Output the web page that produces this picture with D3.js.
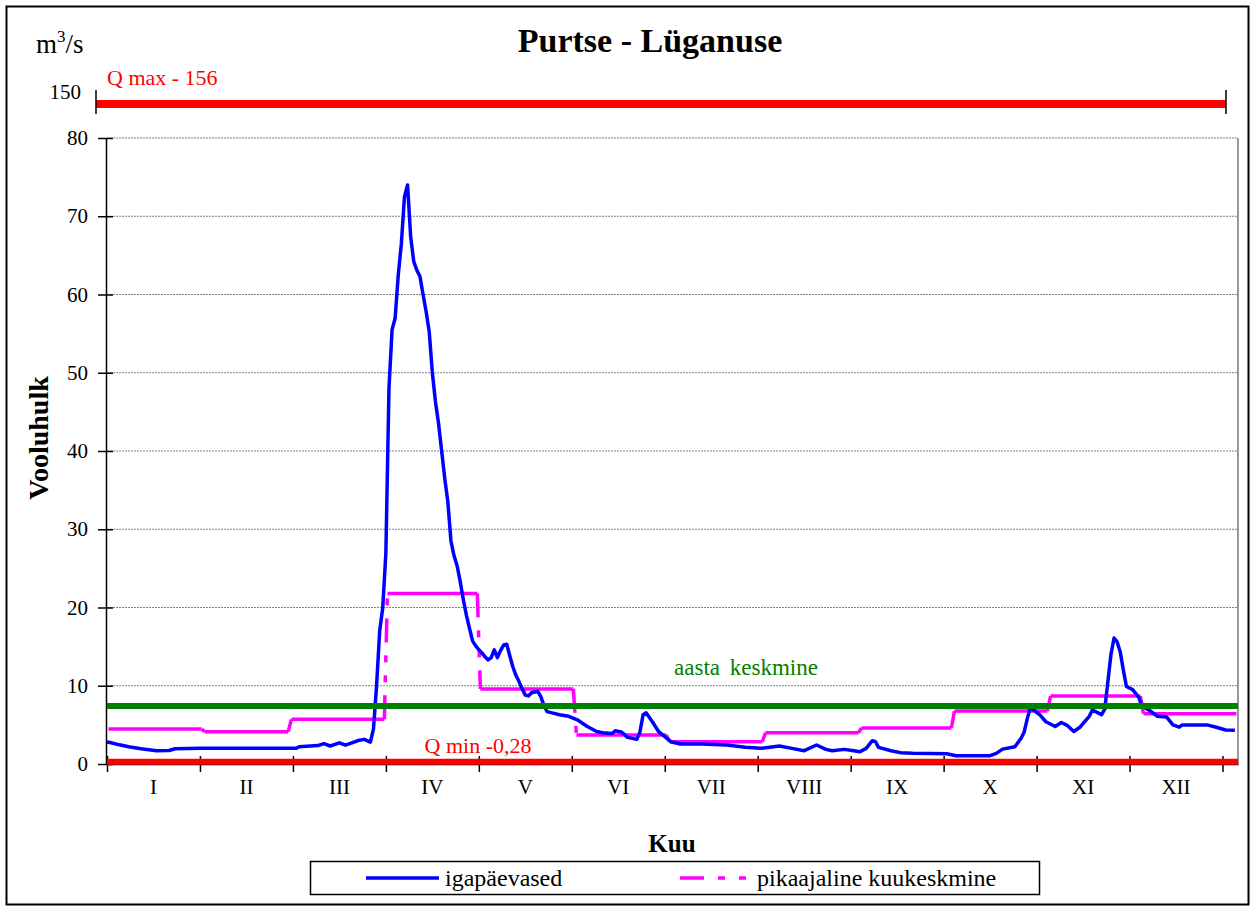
<!DOCTYPE html>
<html>
<head>
<meta charset="utf-8">
<script src="https://cdn.jsdelivr.net/npm/d3@7"></script>
<style>
  body { margin: 0; background: #fff; }
  text { font-family: "Liberation Serif", "Times New Roman", serif; }
</style>
</head>
<body>
<div id="chart"></div>
<script>
"use strict";

// month labels and the day each month starts (365 day year)
const months = ["I", "II", "III", "IV", "V", "VI", "VII", "VIII", "IX", "X", "XI", "XII"];
const monthStart = [0, 31, 59, 90, 120, 151, 181, 212, 243, 273, 304, 334, 365];
// long term monthly mean (pink step line)
const monthMean = [4.47, 4.13, 5.71, 21.8, 9.6, 3.7, 2.85, 4.0, 4.6, 6.77, 8.68, 6.42];

// daily flow (day of year, m3/s)
const flowDay = [
  0, 1, 4, 7, 11, 16, 20, 22, 30, 45, 61, 62, 68, 70, 72, 75, 77, 81, 83, 85,
  86, 87, 88, 89, 90, 91, 92, 93, 94, 95, 96, 97, 98, 99, 100, 101, 102, 103, 104, 105,
  106, 107, 108, 109, 110, 111, 112, 113, 114, 115, 116, 117, 118, 119, 120, 121, 122, 123, 124, 125,
  126, 127, 128, 129, 130, 131, 132, 133, 134, 135, 136, 137, 138, 139, 140, 141, 142, 144, 146, 149,
  152, 155, 158, 160, 163, 164, 166, 168, 171, 172, 173, 174, 176, 178, 180, 182, 185, 192, 200, 206,
  211, 217, 221, 225, 229, 232, 234, 238, 241, 243, 245, 247, 248, 249, 253, 256, 260, 271, 274, 285,
  287, 289, 293, 295, 296, 297, 298, 299, 301, 303, 306, 308, 310, 312, 314, 317, 318, 320, 321, 322,
  323, 324, 325, 326, 327, 328, 329, 331, 333, 334, 337, 339, 342, 344, 346, 347, 355, 358, 361, 364
];
const flowValue = [
  2.8, 2.75, 2.45, 2.2, 1.95, 1.7, 1.72, 1.95, 2.0, 2.0, 2.0, 2.2, 2.35, 2.6, 2.3, 2.7, 2.4, 3.0, 3.15, 2.8,
  4.5, 10, 17, 20, 27, 48, 55.5, 57, 62.5, 66.5, 72.5, 74, 67.4, 64.2, 63.1, 62.3, 60, 57.8, 55.2, 50,
  46.3, 43.5, 40, 36.5, 33.5, 28.5, 26.6, 25.3, 23.3, 21, 19, 17.3, 15.7, 15.1, 14.6, 14.2, 13.7, 13.3, 13.6, 14.6,
  13.6, 14.5, 15.2, 15.3, 13.8, 12.4, 11.3, 10.5, 9.6, 8.8, 8.7, 9.1, 9.2, 9.3, 8.6, 7.5, 6.7, 6.5, 6.3, 6.1,
  5.6, 4.8, 4.15, 4.0, 3.9, 4.25, 4.1, 3.4, 3.15, 4.1, 6.3, 6.55, 5.4, 4.15, 3.5, 2.85, 2.56, 2.56, 2.43, 2.15,
  2.0, 2.3, 2.0, 1.7, 2.43, 1.87, 1.7, 1.87, 1.7, 1.57, 2.0, 2.98, 2.85, 2.13, 1.7, 1.45, 1.36, 1.3, 1.06, 1.06,
  1.35, 1.9, 2.2, 3.3, 4.1, 5.8, 7.2, 6.9, 6.3, 5.4, 4.8, 5.3, 4.9, 4.15, 4.7, 6.1, 6.9, 6.5, 6.3, 7.0,
  10.5, 14, 16.1, 15.6, 14.3, 12, 9.9, 9.5, 8.5, 7.4, 6.7, 6.1, 6.0, 5.0, 4.7, 5.0, 5.0, 4.7, 4.35, 4.3
];

const yearMean = 7.4;
const qMin = 0.28;
const qMinLabel = "Q min -0,28";
const qMaxLevel = 150;
const qMaxLabel = "Q max - 156";
const yTicks = [0, 10, 20, 30, 40, 50, 60, 70, 80];
const xTicks = [0, 30, 60, 90, 120, 150, 180, 210, 240, 270, 300, 330, 360];

const msm = {
    width: 1259,
    height: 910,
    left: 107,
    right: 1238,
    top: 138,
    bottom: 764
};

const svg = d3.select("#chart").append("svg")
    .attr("width", msm.width)
    .attr("height", msm.height);

// outer chart frame
svg.append("rect")
    .attr("x", 6.5).attr("y", 6.5)
    .attr("width", 1242).attr("height", 898)
    .attr("fill", "#fff")
    .attr("stroke", "#000")
    .attr("stroke-width", 2);

const x = d3.scaleLinear().domain([0, 365]).range([msm.left, msm.right]);
const y = d3.scaleLinear().domain([0, 80]).range([msm.bottom, msm.top]);
// broken upper zone for Q max
const xBreak = d3.scaleLinear().domain([0, 365]).range([96, 1226]);
const yBreak = d3.scaleLinear().domain([140, 160]).range([130, 78]);

// gridlines
svg.append("g")
    .selectAll("line")
    .data(yTicks.filter(d => d > 0))
    .enter()
    .append("line")
    .attr("x1", msm.left).attr("x2", msm.right)
    .attr("y1", d => y(d)).attr("y2", d => y(d))
    .attr("stroke", "#808080")
    .attr("stroke-width", 1.2)
    .attr("stroke-dasharray", "2,1");

// right border of plot area
svg.append("line")
    .attr("x1", msm.right).attr("x2", msm.right)
    .attr("y1", y(80)).attr("y2", msm.bottom)
    .attr("stroke", "#999")
    .attr("stroke-width", 2);

// left axis
const yAxis = d3.axisLeft(y).tickValues(yTicks).tickSize(8).tickSizeOuter(0).tickPadding(10);
svg.append("g")
    .attr("transform", "translate(" + (msm.left - 1) + ",0)")
    .call(yAxis)
    .call(g => g.select(".domain").attr("stroke-width", 1.5))
    .call(g => g.selectAll(".tick line").attr("x1", 7).attr("stroke-width", 1.5))
    .call(g => g.selectAll(".tick text")
        .style("font-family", "Liberation Serif")
        .style("font-size", "21px")
        .attr("fill", "#000"));

// bottom axis with month labels between ticks
const xAxis = d3.axisBottom(x).tickValues(xTicks).tickSize(8).tickSizeOuter(0).tickFormat("");
svg.append("g")
    .attr("transform", "translate(0," + msm.bottom + ")")
    .call(xAxis)
    .call(g => g.select(".domain").attr("stroke-width", 1.5))
    .call(g => g.selectAll(".tick line").attr("y1", -8).attr("stroke-width", 1.5));

svg.append("g")
    .selectAll("text")
    .data(months)
    .enter()
    .append("text")
    .attr("x", (d, i) => x(i * 30 + 15))
    .attr("y", 794)
    .attr("text-anchor", "middle")
    .style("font-size", "21px")
    .text(d => d);

// pink long-term monthly mean: flat parts solid, jumps drawn with dash pattern
const pinkFlat = monthMean.map((v, i) => ({ x1: monthStart[i] + 0.5, x2: monthStart[i + 1] - 0.5, v: v }));
const pinkJump = monthMean.slice(1).map((v, i) => ({
    x1: monthStart[i + 1] - 0.5, v1: monthMean[i],
    x2: monthStart[i + 1] + 0.5, v2: v
}));
const pink = svg.append("g")
    .attr("stroke", "#FF00FF")
    .attr("stroke-width", 3.5)
    .attr("fill", "none");
pink.selectAll("line.flat")
    .data(pinkFlat)
    .enter()
    .append("line")
    .attr("class", "flat")
    .attr("x1", d => x(d.x1)).attr("x2", d => x(d.x2))
    .attr("y1", d => y(d.v)).attr("y2", d => y(d.v));
pink.selectAll("line.jump")
    .data(pinkJump)
    .enter()
    .append("line")
    .attr("class", "jump")
    .attr("x1", d => x(d.x1)).attr("x2", d => x(d.x2))
    .attr("y1", d => y(d.v1)).attr("y2", d => y(d.v2))
    .attr("stroke-dasharray", "24,13,7,13,7,13");

// daily flow
const flow = flowDay.map((d, i) => [d, flowValue[i]]);
svg.append("path")
    .datum(flow)
    .attr("d", d3.line().x(d => x(d[0])).y(d => y(d[1])))
    .attr("fill", "none")
    .attr("stroke", "#0000FF")
    .attr("stroke-width", 3.5)
    .attr("stroke-linejoin", "round");

// annual mean
svg.append("line")
    .attr("x1", msm.left).attr("x2", msm.right)
    .attr("y1", y(yearMean)).attr("y2", y(yearMean))
    .attr("stroke", "#008000")
    .attr("stroke-width", 6);
svg.append("text")
    .attr("x", 746).attr("y", 675)
    .attr("text-anchor", "middle")
    .attr("fill", "#008000")
    .style("font-size", "23px")
    .style("word-spacing", "4px")
    .text("aasta keskmine");

// Q min
svg.append("line")
    .attr("x1", msm.left).attr("x2", msm.right)
    .attr("y1", y(qMin)).attr("y2", y(qMin))
    .attr("stroke", "#FF0000")
    .attr("stroke-width", 6);
svg.append("text")
    .attr("x", 478).attr("y", 753)
    .attr("text-anchor", "middle")
    .attr("fill", "#FF0000")
    .style("font-size", "22px")
    .text(qMinLabel);

// Q max in the broken top zone
svg.append("line")
    .attr("x1", xBreak(0)).attr("x2", xBreak(365))
    .attr("y1", yBreak(qMaxLevel)).attr("y2", yBreak(qMaxLevel))
    .attr("stroke", "#FF0000")
    .attr("stroke-width", 8);
svg.append("g")
    .selectAll("line")
    .data([0, 365])
    .enter()
    .append("line")
    .attr("x1", d => xBreak(d)).attr("x2", d => xBreak(d))
    .attr("y1", yBreak(qMaxLevel) - 14).attr("y2", yBreak(qMaxLevel) + 10)
    .attr("stroke", "#000")
    .attr("stroke-width", 1.5);
svg.append("text")
    .attr("x", 81).attr("y", yBreak(qMaxLevel) - 5)
    .attr("text-anchor", "end")
    .style("font-size", "21px")
    .text(qMaxLevel);
svg.append("text")
    .attr("x", 107).attr("y", 85)
    .attr("fill", "#FF0000")
    .style("font-size", "22px")
    .text(qMaxLabel);

// titles
svg.append("text")
    .attr("x", 650).attr("y", 52)
    .attr("text-anchor", "middle")
    .style("font-size", "34px")
    .style("font-weight", "bold")
    .text("Purtse - Lüganuse");

const unit = svg.append("text")
    .attr("x", 36).attr("y", 53)
    .style("font-size", "27px");
unit.append("tspan").text("m");
unit.append("tspan").attr("dy", -11).style("font-size", "17px").text("3");
unit.append("tspan").attr("dy", 11).text("/s");

svg.append("text")
    .attr("transform", "translate(48,438) rotate(-90)")
    .attr("text-anchor", "middle")
    .style("font-size", "28px")
    .style("font-weight", "bold")
    .text("Vooluhulk");

svg.append("text")
    .attr("x", 672).attr("y", 852)
    .attr("text-anchor", "middle")
    .style("font-size", "25px")
    .style("font-weight", "bold")
    .text("Kuu");

// legend
const legend = svg.append("g");
legend.append("rect")
    .attr("x", 310.5).attr("y", 861.5)
    .attr("width", 729).attr("height", 33)
    .attr("fill", "#fff")
    .attr("stroke", "#000")
    .attr("stroke-width", 1.5);
legend.append("line")
    .attr("x1", 366).attr("x2", 439)
    .attr("y1", 878).attr("y2", 878)
    .attr("stroke", "#0000FF")
    .attr("stroke-width", 3.5);
legend.append("text")
    .attr("x", 445).attr("y", 886)
    .style("font-size", "24px")
    .text("igapäevased");
legend.append("line")
    .attr("x1", 680).attr("x2", 748)
    .attr("y1", 878).attr("y2", 878)
    .attr("stroke", "#FF00FF")
    .attr("stroke-width", 3.5)
    .attr("stroke-dasharray", "24,14,7,14,7,14");
legend.append("text")
    .attr("x", 757).attr("y", 886)
    .style("font-size", "24px")
    .text("pikaajaline kuukeskmine");
</script>
</body>
</html>
